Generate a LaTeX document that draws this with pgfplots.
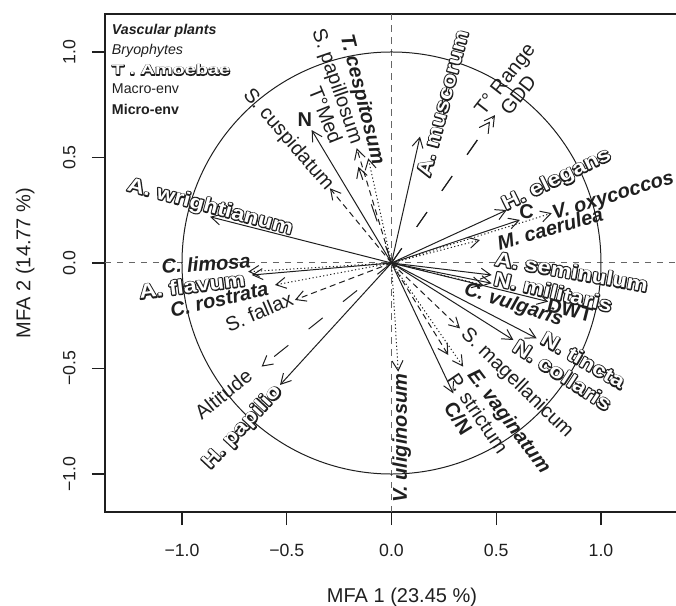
\documentclass[border=0pt]{standalone}
\usepackage{fontspec}
\setmainfont{Liberation Sans}
\newfontfamily\olfont[FakeStretch=1.18]{Liberation Sans}
\newfontfamily\ollegfont[FakeStretch=1.4]{Liberation Sans}
\usepackage{pgfplots}
\pgfplotsset{compat=1.18}
\usepackage{pgfplotstable}
\usetikzlibrary{arrows.meta}
\definecolor{ink}{gray}{0.12}
% outlined text: a dark stroked copy under a white filled copy
\newcommand{\ol}[1]{{\olfont\bfseries\rlap{\special{x:gsave}\special{pdf:literal direct 1 Tr 1 j 1.2 w 0.12 G}#1\special{x:grestore}}{\color{white}#1}}}
\newcommand{\olleg}[1]{{\ollegfont\bfseries\rlap{\special{x:gsave}\special{pdf:literal direct 1 Tr 1 j 0.9 w 0.12 G}#1\special{x:grestore}}{\color{white}#1}}}

\pgfplotstableread{
x y
-0.866 0.219
0.136 0.599
0.550 0.251
-0.667 -0.057
0.478 -0.057
0.478 -0.096
0.693 -0.357
0.582 -0.365
-0.532 -0.578
}\amoebae
\pgfplotstableread{
x y
-0.381 0.630
0.613 0.204
0.748 -0.183
0.295 -0.618
}\micro
\pgfplotstableread{
x y
-0.158 0.456
0.470 0.670
0.494 0.701
-0.620 -0.491
}\macro
\pgfplotstableread{
x y
-0.111 0.496
-0.684 -0.041
-0.556 -0.104
0.765 0.236
0.422 0.109
0.437 -0.104
0.342 -0.491
0.032 -0.515
}\vascular
\pgfplotstableread{
x y
-0.166 0.544
-0.294 0.354
-0.461 -0.175
0.327 -0.310
0.271 -0.436
}\bryo

\begin{document}
\begin{tikzpicture}[
  lbl/.style={font=\fontsize{10}{12}\selectfont, inner sep=0pt, text=ink},
  leg/.style={font=\fontsize{7.1}{8.5}\selectfont, inner sep=0pt, text=ink, anchor=base west},
  arr/.style={line width=0.5pt, ink, -{Straight Barb[length=5pt,width=5.5pt]}},
]
\begin{axis}[name=ax, scale only axis, width=285.5pt, height=249pt,
  xmin=-1.3675, xmax=1.358, ymin=-1.18, ymax=1.18,
  axis line style={draw=none},
  xtick={-1,-0.5,0,0.5,1}, xticklabels={−1.0,−0.5,0.0,0.5,1.0},
  ytick={-1,-0.5,0,0.5,1}, yticklabels={−1.0,−0.5,0.0,0.5,1.0},
  xtick pos=left, ytick pos=left, tick align=outside, major tick length=6.5pt,
  tick style={line width=0.65pt, color=ink},
  ticklabel style={font=\fontsize{8.85}{10}\selectfont, text=ink, inner sep=0pt},
  xticklabel style={anchor=north, yshift=-9.25pt},
  yticklabel style={xshift=-8pt, rotate=90, anchor=south},
  xlabel={MFA 1 (23.45 \%)}, ylabel={MFA 2 (14.77 \%)},
  every axis x label/.style={at={(axis description cs:0.5,0)}, anchor=north, inner sep=0pt, yshift=-38pt, xshift=5.75pt, font=\fontsize{10}{12}\selectfont, text=ink},
  every axis y label/.style={at={(axis description cs:0,0.5)}, xshift=-35pt, rotate=90, anchor=south, inner sep=0pt, font=\fontsize{10}{12}\selectfont, text=ink},
  clip=false,
]
% frame (right side lies outside the picture)
\draw[ink, line width=0.65pt] (rel axis cs:1,1) -- (rel axis cs:0,1) -- (rel axis cs:0,0) -- (rel axis cs:1,0);
% reference lines
\addplot[gray!80!black, line width=0.5pt, dash pattern=on 3.25pt off 2.75pt] coordinates {(-1.3675,0) (1.358,0)};
\addplot[gray!80!black, line width=0.5pt, dash pattern=on 3.25pt off 2.75pt] coordinates {(0,-1.18) (0,1.18)};
% unit circle
\draw[ink, line width=0.5pt] (axis cs:0,0) ellipse [x radius=1, y radius=1];
% arrows
\addplot[arr, quiver={u=\thisrow{x}, v=\thisrow{y}}] table[x expr=0, y expr=0] {\amoebae};
\addplot[arr, quiver={u=\thisrow{x}, v=\thisrow{y}}] table[x expr=0, y expr=0] {\micro};
\addplot[arr, dash pattern=on 9pt off 13pt, quiver={u=\thisrow{x}, v=\thisrow{y}}] table[x expr=0, y expr=0] {\macro};
\addplot[arr, dash pattern=on 0.6pt off 1.2pt, quiver={u=\thisrow{x}, v=\thisrow{y}}] table[x expr=0, y expr=0] {\vascular};
\addplot[arr, dash pattern=on 3pt off 2pt, quiver={u=\thisrow{x}, v=\thisrow{y}}] table[x expr=0, y expr=0] {\bryo};
% amoebae labels
\node[lbl, rotate=-15] at (axis cs:-0.866,0.263) {\ol{A. wrightianum}};
\node[lbl, rotate=75] at (axis cs:0.244,0.757) {\ol{A. muscorum}};
\node[lbl, rotate=26] at (axis cs:0.789,0.393) {\ol{H. elegans}};
\node[lbl, rotate=7] at (axis cs:-0.952,-0.106) {\ol{A. flavum}};
\node[lbl, rotate=-10] at (axis cs:0.860,-0.041) {\ol{A. seminulum}};
\node[lbl, rotate=-13] at (axis cs:0.772,-0.136) {\ol{N. militaris}};
\node[lbl, rotate=-30] at (axis cs:0.916,-0.460) {\ol{N. tincta}};
\node[lbl, rotate=-33] at (axis cs:0.817,-0.531) {\ol{N. collaris}};
\node[lbl, rotate=47] at (axis cs:-0.710,-0.779) {\ol{H. papilio}};
% micro-env labels
\node[lbl, font=\fontsize{10}{12}\selectfont\bfseries] at (axis cs:-0.413,0.678) {N};
\node[lbl, font=\fontsize{10}{12}\selectfont\bfseries] at (axis cs:0.645,0.243) {C};
\node[lbl, font=\fontsize{10}{12}\selectfont\bfseries, rotate=-14] at (axis cs:0.852,-0.223) {DWT};
\node[lbl, font=\fontsize{10}{12}\selectfont\bfseries, rotate=-58] at (axis cs:0.319,-0.736) {C/N};
% macro-env labels
\node[lbl, rotate=-68] at (axis cs:-0.313,0.701) {T°Med};
\node[lbl, rotate=52] at (axis cs:0.547,0.867) {T° Range};
\node[lbl, rotate=52] at (axis cs:0.605,0.796) {GDD};
\node[lbl, rotate=39] at (axis cs:-0.803,-0.621) {Altitude};
% vascular labels
\node[lbl, font=\fontsize{10}{12}\selectfont\bfseries\itshape, rotate=-76] at (axis cs:-0.142,0.773) {T. cespitosum};
\node[lbl, font=\fontsize{10}{12}\selectfont\bfseries\itshape, rotate=4] at (axis cs:-0.885,-0.003) {C. limosa};
\node[lbl, font=\fontsize{10}{12}\selectfont\bfseries\itshape, rotate=13] at (axis cs:-0.822,-0.172) {C. rostrata};
\node[lbl, font=\fontsize{10}{12}\selectfont\bfseries\itshape, rotate=17] at (axis cs:1.059,0.314) {V. oxycoccos};
\node[lbl, font=\fontsize{10}{12}\selectfont\bfseries\itshape, rotate=16] at (axis cs:0.757,0.164) {M. caerulea};
\node[lbl, font=\fontsize{10}{12}\selectfont\bfseries\itshape, rotate=-18] at (axis cs:0.582,-0.199) {C. vulgaris};
\node[lbl, font=\fontsize{10}{12}\selectfont\bfseries\itshape, rotate=-53] at (axis cs:0.558,-0.752) {E. vaginatum};
\node[lbl, font=\fontsize{10}{12}\selectfont\bfseries\itshape, rotate=90] at (axis cs:0.049,-0.831) {V. uliginosum};
% bryophyte labels
\node[lbl, rotate=-71] at (axis cs:-0.262,0.836) {S. papillosum};
\node[lbl, rotate=-49] at (axis cs:-0.493,0.583) {S. cuspidatum};
\node[lbl, rotate=23] at (axis cs:-0.632,-0.231) {S. fallax};
\node[lbl, rotate=-44] at (axis cs:0.598,-0.570) {S. magellanicum};
\node[lbl, rotate=-56] at (axis cs:0.414,-0.712) {P. strictum};
% legend
\node[leg, font=\fontsize{7.1}{8.5}\selectfont\bfseries\itshape] at (axis cs:-1.336,1.081) {Vascular plants};
\node[leg, font=\fontsize{7.1}{8.5}\selectfont\itshape] at (axis cs:-1.336,0.986) {Bryophytes};
\node[leg] at (axis cs:-1.336,0.891) {\olleg{T . Amoebae}};
\node[leg] at (axis cs:-1.336,0.801) {Macro-env};
\node[leg, font=\fontsize{7.1}{8.5}\selectfont\bfseries] at (axis cs:-1.336,0.706) {Micro-env};
\end{axis}
\pgfresetboundingbox
\path[use as bounding box] ([shift={(-52.5pt,-47pt)}]ax.south west) rectangle ([shift={(0pt,7pt)}]ax.north east);
\end{tikzpicture}
\end{document}
